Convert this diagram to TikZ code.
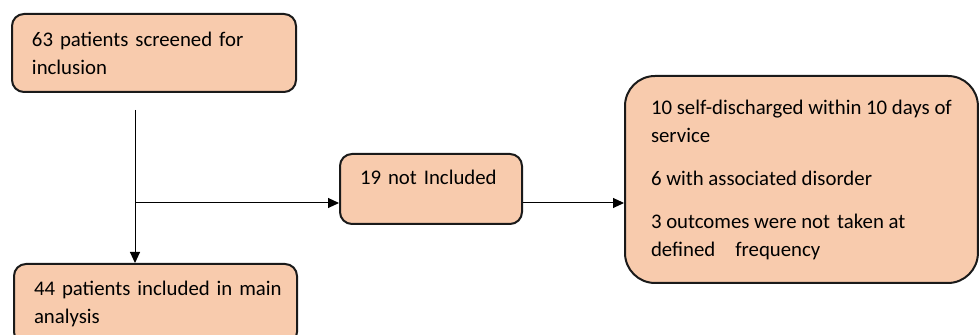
\documentclass[tikz,border=0pt]{standalone}
\usepackage{fontspec}
\setmainfont{Carlito}
\usepackage{tikz}
\usetikzlibrary{arrows.meta}
\definecolor{peach}{HTML}{F8CBAD}
\definecolor{edge}{HTML}{1A1A1A}

\begin{document}
\begin{tikzpicture}[x=0.5pt,y=-0.5pt,
  font=\fontsize{10.4}{14}\selectfont,
  flowbox/.style={draw=edge,fill=peach,line width=1pt,rounded corners=6pt,
    anchor=north west,align=left,inner xsep=10pt},
  flow/.style={line width=0.5pt,-{Triangle[length=5.5pt,width=5pt]}}]
\useasboundingbox (0,0) rectangle (980,335);
\clip (0,0) rectangle (980,335);
\node[flowbox,text width=122pt,minimum height=39pt] (screen) at (11,13) {\mbox{63 patients screened for}\\inclusion};
\node[flowbox,text width=71pt,minimum height=35pt,text depth=12.2pt] (excl) at (339,153) {19 not Included};
\node[flowbox,rounded corners=15pt,inner xsep=13pt,minimum height=103.5pt] (reason) at (624,75)
  {10 self-discharged within 10 days of\\service\\[7.5pt]6 with associated disorder\\[7.5pt]3 outcomes were not\hspace{3.5pt}taken at\\defined\hspace{10pt}frequency};
\node[flowbox,text width=121.5pt,minimum height=40pt] (incl) at (13,263) {\mbox{44 patients included in main}\\analysis};
% free upper end of the main line
\coordinate (top) at (135,110);
\coordinate (split) at (135,203);
\draw[flow] (top) -- (top |- incl.north);
\draw[flow] (split) -- (split -| excl.west);
\draw[flow] (excl.east |- split) -- (split -| reason.west);
\end{tikzpicture}
\end{document}
